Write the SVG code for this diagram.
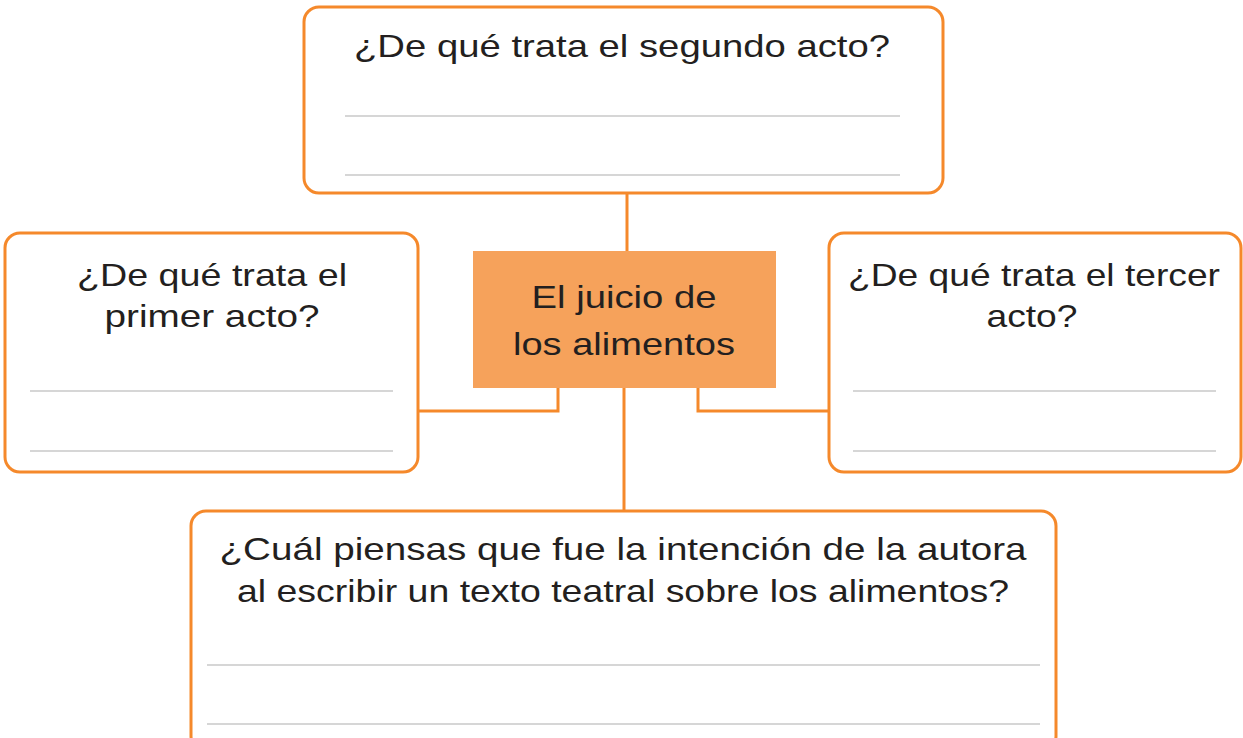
<svg xmlns="http://www.w3.org/2000/svg" width="1243" height="738" viewBox="0 0 1243 738">
<style>
.box{fill:#fff;stroke:#F5892B;stroke-width:3}
.rule{stroke:#c8c8c8;stroke-width:1.5}
.conn{fill:none;stroke:#F5892B;stroke-width:3}
text{font-family:"Liberation Sans",Arial,sans-serif;font-size:32px;fill:#231f20;text-anchor:middle}
</style>
<rect width="1243" height="738" fill="#fff"/>
<g id="connectors">
<line class="conn" x1="627" y1="193" x2="627" y2="252"/>
<line class="conn" x1="624" y1="388" x2="624" y2="511"/>
<polyline class="conn" points="558,388 558,411 419,411"/>
<polyline class="conn" points="698,388 698,411 829,411"/>
</g>
<g id="top">
<rect class="box" x="304" y="7" width="639" height="186" rx="15"/>
<text x="622" y="57" textLength="536" lengthAdjust="spacingAndGlyphs">¿De qué trata el segundo acto?</text>
<line class="rule" x1="345" y1="116" x2="900" y2="116"/>
<line class="rule" x1="345" y1="175" x2="900" y2="175"/>
</g>
<g id="center">
<rect x="473" y="251" width="303" height="137" fill="#F6A25B"/>
<text x="624" y="308" textLength="185" lengthAdjust="spacingAndGlyphs">El juicio de</text>
<text x="624" y="355" textLength="222" lengthAdjust="spacingAndGlyphs">los alimentos</text>
</g>
<g id="left">
<rect class="box" x="5" y="233" width="413" height="239" rx="15"/>
<text x="212" y="286" textLength="270" lengthAdjust="spacingAndGlyphs">¿De qué trata el</text>
<text x="212" y="327" textLength="215" lengthAdjust="spacingAndGlyphs">primer acto?</text>
<line class="rule" x1="30" y1="391" x2="393" y2="391"/>
<line class="rule" x1="30" y1="451" x2="393" y2="451"/>
</g>
<g id="right">
<rect class="box" x="829" y="233" width="412" height="239" rx="15"/>
<text x="1034" y="286" textLength="372" lengthAdjust="spacingAndGlyphs">¿De qué trata el tercer</text>
<text x="1032" y="327" textLength="91" lengthAdjust="spacingAndGlyphs">acto?</text>
<line class="rule" x1="853" y1="391" x2="1216" y2="391"/>
<line class="rule" x1="853" y1="451" x2="1216" y2="451"/>
</g>
<g id="bottom">
<rect class="box" x="191" y="511" width="865" height="240" rx="15"/>
<text x="623" y="560" textLength="807" lengthAdjust="spacingAndGlyphs">¿Cuál piensas que fue la intención de la autora</text>
<text x="623" y="602" textLength="772" lengthAdjust="spacingAndGlyphs">al escribir un texto teatral sobre los alimentos?</text>
<line class="rule" x1="207" y1="665" x2="1040" y2="665"/>
<line class="rule" x1="207" y1="724" x2="1040" y2="724"/>
</g>
</svg>
